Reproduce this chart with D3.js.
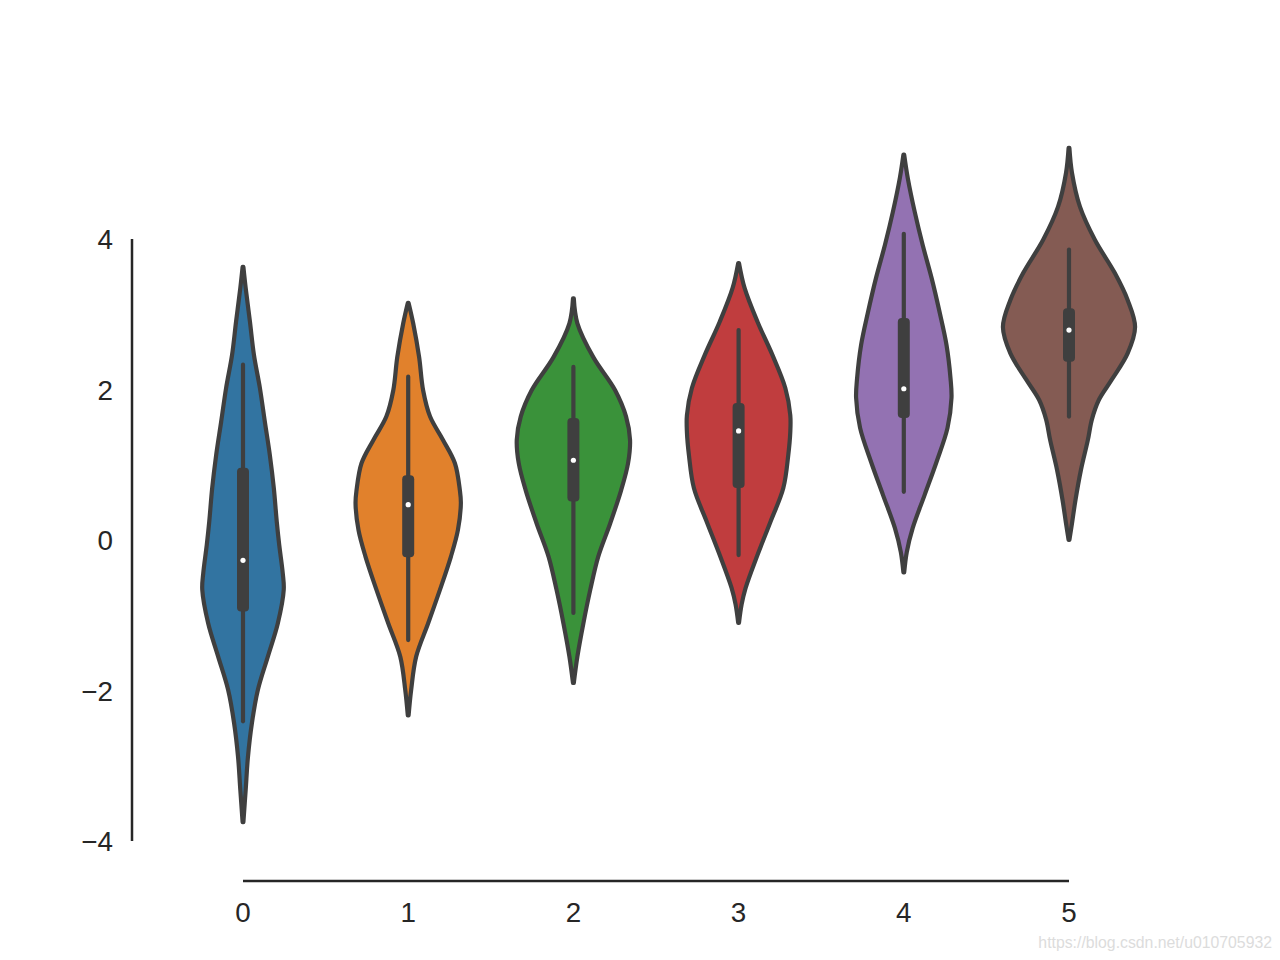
<!DOCTYPE html>
<html>
<head>
<meta charset="utf-8">
<script src="https://cdn.jsdelivr.net/npm/d3@7"></script>
<style>
  html, body { margin: 0; padding: 0; background: #ffffff; }
  svg { display: block; }
</style>
</head>
<body>
<svg id="chart" width="1280" height="960"></svg>
<script>
// ---------------- data ----------------
const categories = ["0", "1", "2", "3", "4", "5"];
const colors = ["#3274a1", "#e1812c", "#3a923a", "#c03d3e", "#9372b2", "#845b53"];
const yTicks = [-4, -2, 0, 2, 4];

// violin outlines: [value, density]
const profile0 = [[3.63,0.004],[3.35,0.027],[2.90,0.07],[2.46,0.11],[2.02,0.17],[1.57,0.22],[1.13,0.27],[0.69,0.31],[0.24,0.34],[-0.07,0.365],[-0.44,0.40],[-0.66,0.41],[-1.11,0.35],[-1.55,0.25],[-1.99,0.15],[-2.43,0.09],[-2.88,0.05],[-3.32,0.027],[-3.75,0.004]];
const profile1 = [[3.15,0.004],[2.88,0.05],[2.43,0.11],[1.99,0.15],[1.64,0.22],[1.33,0.35],[1.02,0.47],[0.66,0.52],[0.49,0.53],[0.13,0.50],[-0.22,0.43],[-0.66,0.32],[-1.11,0.20],[-1.55,0.08],[-1.99,0.03],[-2.33,0.004]];
const profile2 = [[3.21,0.004],[2.88,0.04],[2.43,0.20],[1.99,0.42],[1.64,0.53],[1.33,0.57],[1.02,0.55],[0.66,0.48],[0.22,0.37],[-0.22,0.25],[-0.66,0.17],[-1.11,0.10],[-1.55,0.04],[-1.90,0.004]];
const profile3 = [[3.68,0.004],[3.35,0.06],[2.90,0.19],[2.46,0.34],[2.02,0.47],[1.66,0.52],[1.43,0.52],[1.13,0.50],[0.69,0.45],[0.24,0.32],[-0.20,0.19],[-0.64,0.07],[-0.86,0.03],[-1.10,0.004]];
const profile4 = [[5.12,0.004],[4.81,0.04],[4.36,0.11],[3.92,0.19],[3.48,0.28],[3.03,0.36],[2.59,0.43],[2.15,0.47],[1.89,0.48],[1.49,0.44],[1.04,0.33],[0.60,0.21],[0.16,0.09],[-0.16,0.03],[-0.43,0.004]];
const profile5 = [[5.21,0.004],[4.88,0.03],[4.43,0.11],[3.99,0.26],[3.55,0.46],[3.19,0.59],[2.83,0.665],[2.48,0.59],[2.13,0.43],[1.86,0.30],[1.60,0.23],[1.33,0.19],[0.93,0.12],[0.53,0.065],[0.22,0.03],[0.0,0.004]];
const profiles = [profile0, profile1, profile2, profile3, profile4, profile5];

// inner box: whisker low, q1, median, q3, whisker high
const whiskerLow  = [-2.41, -1.33, -0.97, -0.20, 0.64, 1.64];
const q1          = [-0.95, -0.23, 0.51, 0.69, 1.62, 2.37];
const medians     = [-0.27, 0.47, 1.06, 1.45, 2.01, 2.79];
const q3          = [0.96, 0.86, 1.62, 1.82, 2.95, 3.08];
const whiskerHigh = [2.33, 2.17, 2.30, 2.79, 4.07, 3.86];

// ---------------- drawing ----------------
const svg = d3.select("#chart");
const gray = "#3f3f3f";
const axisColor = "#262626";
const font = "'Liberation Sans', Arial, 'DejaVu Sans', sans-serif";

const x = d3.scalePoint().domain(categories).range([243, 1069]);
const y = d3.scaleLinear().domain([-4, 4]).range([841, 239]);
const maxDensity = d3.max(profiles.flat(), d => d[1]);
const w = d3.scaleLinear().domain([0, maxDensity]).range([0, 0.4 * x.step()]);

// spines
svg.append("line").attr("x1", 132).attr("x2", 132)
  .attr("y1", y(4)).attr("y2", y(-4))
  .attr("stroke", axisColor).attr("stroke-width", 2.5);
svg.append("line").attr("x1", x("0")).attr("x2", x("5"))
  .attr("y1", 881).attr("y2", 881)
  .attr("stroke", axisColor).attr("stroke-width", 2.5);

// y tick labels
svg.append("g").selectAll("text").data(yTicks).join("text")
  .attr("x", 113).attr("y", d => y(d) + 10)
  .attr("text-anchor", "end")
  .attr("font-family", font).attr("font-size", 27.8)
  .attr("fill", axisColor)
  .text(d => d < 0 ? "\u2212" + Math.abs(d) : String(d));

// x tick labels
svg.append("g").selectAll("text").data(categories).join("text")
  .attr("x", d => x(d)).attr("y", 922)
  .attr("text-anchor", "middle")
  .attr("font-family", font).attr("font-size", 27.8)
  .attr("fill", axisColor)
  .text(d => d);

// violins
categories.forEach((c, i) => {
  const cx = x(c);
  const area = d3.area()
    .y(d => y(d[0]))
    .x0(d => cx - w(d[1]))
    .x1(d => cx + w(d[1]))
    .curve(d3.curveCatmullRom.alpha(0.5));
  const g = svg.append("g");
  g.append("path").datum(profiles[i])
    .attr("d", area)
    .attr("fill", colors[i])
    .attr("stroke", gray)
    .attr("stroke-width", 4.2)
    .attr("stroke-linejoin", "round");
  // whisker
  g.append("line")
    .attr("x1", cx).attr("x2", cx)
    .attr("y1", y(whiskerHigh[i])).attr("y2", y(whiskerLow[i]))
    .attr("stroke", gray).attr("stroke-width", 4.2)
    .attr("stroke-linecap", "round");
  // box
  g.append("rect")
    .attr("x", cx - 6).attr("width", 12)
    .attr("y", y(q3[i])).attr("height", y(q1[i]) - y(q3[i]))
    .attr("rx", 4).attr("ry", 4)
    .attr("fill", gray);
  // median
  g.append("circle")
    .attr("cx", cx).attr("cy", y(medians[i])).attr("r", 2.6)
    .attr("fill", "#ffffff");
});

// watermark
svg.append("text")
  .attr("x", 1272).attr("y", 948)
  .attr("text-anchor", "end")
  .attr("font-family", font).attr("font-size", 15.8)
  .attr("fill", "#dcdcdc")
  .text("https://blog.csdn.net/u010705932");
</script>
</body>
</html>
